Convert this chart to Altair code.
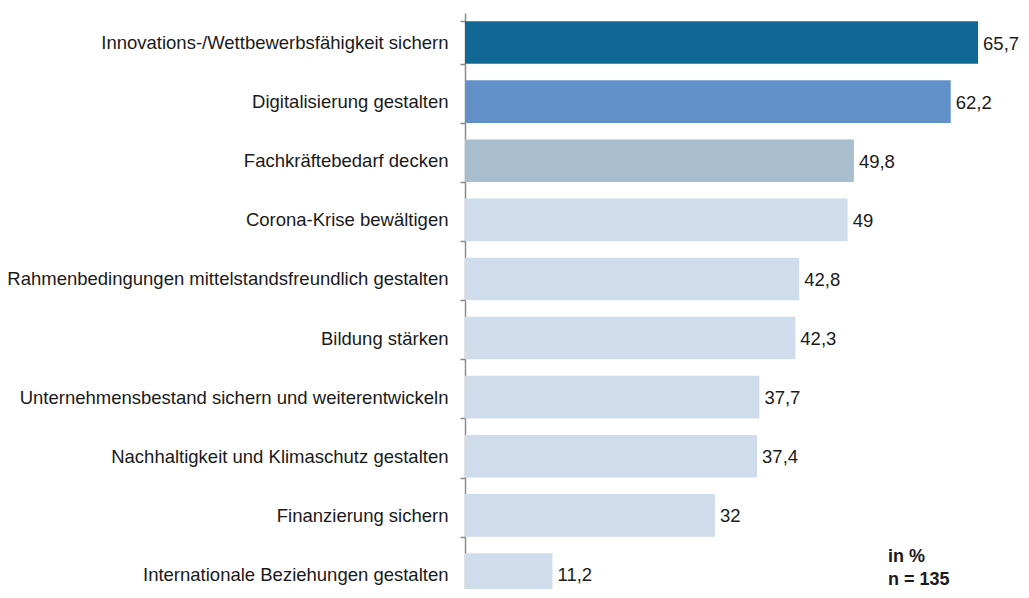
import altair as alt
import pandas as pd

categories = [
    "Innovations-/Wettbewerbsfähigkeit sichern",
    "Digitalisierung gestalten",
    "Fachkräftebedarf decken",
    "Corona-Krise bewältigen",
    "Rahmenbedingungen mittelstandsfreundlich gestalten",
    "Bildung stärken",
    "Unternehmensbestand sichern und weiterentwickeln",
    "Nachhaltigkeit und Klimaschutz gestalten",
    "Finanzierung sichern",
    "Internationale Beziehungen gestalten",
]
values = [65.7, 62.2, 49.8, 49.0, 42.8, 42.3, 37.7, 37.4, 32.0, 11.2]
colors = ["#116894", "#6290C8", "#A8BECE", "#CFDCEC", "#CFDCEC",
          "#CFDCEC", "#CFDCEC", "#CFDCEC", "#CFDCEC", "#CFDCEC"]
labels = ["65,7", "62,2", "49,8", "49", "42,8", "42,3", "37,7", "37,4", "32", "11,2"]
note_lines = ["in %", "n = 135"]

df = pd.DataFrame({"cat": categories, "value": values, "color": colors, "label": labels})

FONT = "Liberation Sans"
FS = 18.5

y_scale = alt.Scale(paddingInner=0.28, paddingOuter=0.14, range=[0, 591])

y_enc = alt.Y(
    "cat:N",
    sort=categories,
    title=None,
    scale=y_scale,
    axis=alt.Axis(
        domainColor="#8c8c8c",
        domainWidth=1.5,
        tickColor="#8c8c8c",
        tickWidth=1.5,
        tickSize=5,
        tickBand="extent",
        labelPadding=12,
        labelFont=FONT,
        labelFontSize=FS,
        labelColor="#1a1a1a",
        labelLimit=480,
    ),
)
x_enc = alt.X("value:Q", scale=alt.Scale(domain=[0, 71.2], nice=False), axis=None)

bars = alt.Chart(df).mark_bar().encode(
    y=y_enc, x=x_enc, color=alt.Color("color:N", scale=None)
)
text = alt.Chart(df).mark_text(
    align="left", baseline="middle", dx=5, dy=1, font=FONT, fontSize=FS, color="#1a1a1a"
).encode(
    y=alt.Y("cat:N", sort=categories, scale=y_scale, axis=None),
    x="value:Q",
    text="label:N",
)

note_df = pd.DataFrame({"t": note_lines, "i": [0, 1]})
note = alt.Chart(note_df).mark_text(
    align="left", baseline="middle", font=FONT, fontSize=18, fontWeight="bold", color="#1a1a1a"
).encode(
    x=alt.value(423),
    y=alt.Y("i:Q", axis=None, scale=alt.Scale(domain=[0, 1], range=[544, 567])),
    text="t:N",
)

chart = alt.layer(bars, text, note).resolve_scale(y="independent").properties(
    width=556,
    height=576,
    padding={"left": 457, "top": 5, "right": 0, "bottom": 0},
    autosize=alt.AutoSizeParams(type="none"),
).configure_view(stroke=None)

chart.save("out.html", embed_options={"renderer": "svg", "actions": False})
